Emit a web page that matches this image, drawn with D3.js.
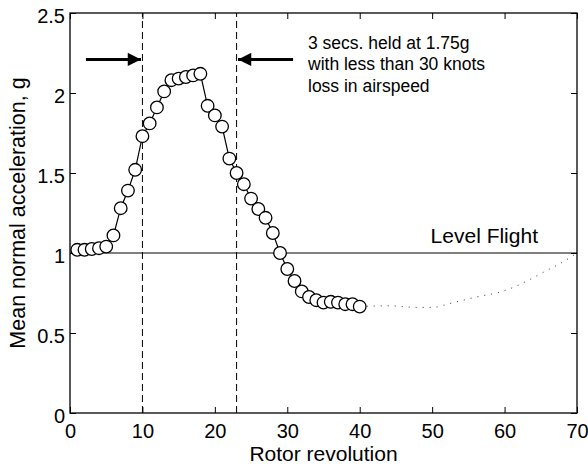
<!DOCTYPE html>
<html>
<head>
<meta charset="utf-8">
<script src="https://cdn.jsdelivr.net/npm/d3@7"></script>
<style>
body { margin: 0; background: #fff; }
text { font-family: "Liberation Sans", Arial, sans-serif; fill: #000; }
</style>
</head>
<body>
<div id="chart"></div>
<script>
var W = 588, H = 467;
var margin = {top: 13, right: 11, bottom: 54, left: 70};

// measured points, rotor revolution 1..40
var revs = d3.range(1, 41);
var accel = [1.02, 1.02, 1.025, 1.03, 1.04, 1.11, 1.28, 1.39, 1.52, 1.73,
             1.81, 1.91, 2.01, 2.08, 2.09, 2.10, 2.11, 2.12, 1.92, 1.86,
             1.79, 1.59, 1.50, 1.43, 1.34, 1.275, 1.22, 1.125, 1.0, 0.90,
             0.825, 0.76, 0.725, 0.705, 0.69, 0.695, 0.69, 0.68, 0.68, 0.665];

// dotted extrapolated recovery
var dotX = [40, 44, 48, 50, 52.5, 54.3, 56.6, 58.9, 61.2, 63.5, 65.8, 67.7, 70];
var dotY = [0.665, 0.67, 0.66, 0.66, 0.685, 0.705, 0.73, 0.75, 0.785, 0.835, 0.89, 0.935, 1.0];

var xTicks = [0, 10, 20, 30, 40, 50, 60, 70];
var yTicks = [0, 0.5, 1, 1.5, 2, 2.5];
var markers = [10, 23];
var noteLines = ["3 secs. held at 1.75g", "with less than 30 knots", "loss in airspeed"];

var svg = d3.select("#chart").append("svg")
  .attr("width", W).attr("height", H);

var x = d3.scaleLinear().domain([0, 70]).range([margin.left, W - margin.right]);
var y = d3.scaleLinear().domain([0, 2.5]).range([H - margin.bottom, margin.top]);

// frame
svg.append("rect")
  .attr("x", x(0)).attr("y", y(2.5))
  .attr("width", x(70) - x(0)).attr("height", y(0) - y(2.5))
  .attr("fill", "none").attr("stroke", "#000").attr("stroke-width", 1.3);

function styleAxis(g, labels) {
  g.select(".domain").remove();
  g.selectAll(".tick line").attr("stroke", "#000").attr("stroke-width", 1);
  g.selectAll("text").style("font-size", "20px").attr("fill", "#000");
  if (!labels) g.selectAll("text").remove();
}

svg.append("g").attr("transform", "translate(0," + y(0) + ")")
  .call(d3.axisBottom(x).tickValues(xTicks).tickSizeInner(-6).tickSizeOuter(0).tickPadding(11))
  .call(styleAxis, true);
svg.append("g").attr("transform", "translate(0," + y(2.5) + ")")
  .call(d3.axisTop(x).tickValues(xTicks).tickSizeInner(-6).tickSizeOuter(0))
  .call(styleAxis, false);
svg.append("g").attr("transform", "translate(" + x(0) + ",0)")
  .call(d3.axisLeft(y).tickValues(yTicks).tickSizeInner(-6).tickSizeOuter(0).tickPadding(5)
    .tickFormat(d3.format("")))
  .call(styleAxis, true)
  .selectAll("text").attr("dy", "0.48em");
svg.append("g").attr("transform", "translate(" + x(70) + ",0)")
  .call(d3.axisRight(y).tickValues(yTicks).tickSizeInner(-6).tickSizeOuter(0))
  .call(styleAxis, false);

// level flight line
svg.append("line")
  .attr("x1", x(0)).attr("x2", x(70)).attr("y1", y(1)).attr("y2", y(1))
  .attr("stroke", "#000").attr("stroke-width", 1);
svg.append("text").attr("x", x(57.2)).attr("y", y(1) - 10)
  .attr("text-anchor", "middle").style("font-size", "21px").text("Level Flight");

// dashed markers
svg.selectAll(".marker").data(markers).join("line")
  .attr("class", "marker")
  .attr("x1", d => x(d)).attr("x2", d => x(d))
  .attr("y1", y(0)).attr("y2", y(2.5))
  .attr("stroke", "#000").attr("stroke-width", 1)
  .attr("stroke-dasharray", "7,4");

// arrows
var defs = svg.append("defs");
defs.append("marker").attr("id", "head")
  .attr("viewBox", "0 0 10 10").attr("refX", 10).attr("refY", 5)
  .attr("markerWidth", 5).attr("markerHeight", 4.4)
  .attr("markerUnits", "strokeWidth").attr("orient", "auto")
  .append("path").attr("d", "M0,0L10,5L0,10Z").attr("fill", "#000");

var arrowY = 2.21;
svg.append("line")
  .attr("x1", x(2.2)).attr("x2", x(9.8)).attr("y1", y(arrowY)).attr("y2", y(arrowY))
  .attr("stroke", "#000").attr("stroke-width", 3).attr("marker-end", "url(#head)");
svg.append("line")
  .attr("x1", x(30.8)).attr("x2", x(23.2)).attr("y1", y(arrowY)).attr("y2", y(arrowY))
  .attr("stroke", "#000").attr("stroke-width", 3).attr("marker-end", "url(#head)");

// note
svg.append("g").selectAll("text").data(noteLines).join("text")
  .attr("x", 308).attr("y", (d, i) => 48.5 + i * 21.5)
  .style("font-size", "17.5px").text(d => d);

// dotted extrapolation
var dotData = dotX.map((d, i) => [d, dotY[i]]);
svg.append("path").datum(dotData)
  .attr("d", d3.line().x(d => x(d[0])).y(d => y(d[1])).curve(d3.curveMonotoneX))
  .attr("fill", "none").attr("stroke", "#333").attr("stroke-width", 1)
  .attr("stroke-dasharray", "1,6");

// measured series
var pts = revs.map((d, i) => [d, accel[i]]);
svg.append("path").datum(pts)
  .attr("d", d3.line().x(d => x(d[0])).y(d => y(d[1])))
  .attr("fill", "none").attr("stroke", "#000").attr("stroke-width", 1.2);
svg.append("g").selectAll("circle").data(pts).join("circle")
  .attr("cx", d => x(d[0])).attr("cy", d => y(d[1])).attr("r", 6.3)
  .attr("fill", "#fff").attr("stroke", "#000").attr("stroke-width", 1.3);

// axis titles
svg.append("text").attr("x", x(35)).attr("y", 461)
  .attr("text-anchor", "middle").style("font-size", "21px").text("Rotor revolution");
svg.append("text")
  .attr("transform", "translate(25," + y(1.25) + ") rotate(-90)")
  .attr("text-anchor", "middle").style("font-size", "21.5px")
  .text("Mean normal acceleration, g");
</script>
</body>
</html>
